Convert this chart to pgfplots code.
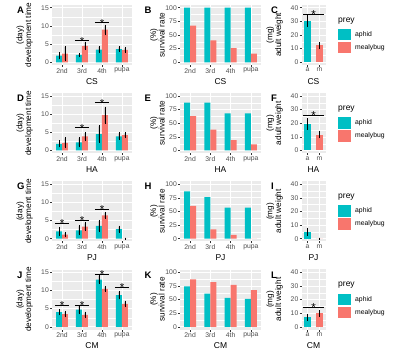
\documentclass[border=0pt]{standalone}
\usepackage{fontspec}
\setmainfont{Liberation Sans}
\usepackage{pgfplots}
\pgfplotsset{compat=1.18}
\definecolor{aphid}{HTML}{00BFC4}
\definecolor{mealy}{HTML}{F8766D}
\definecolor{panelbg}{HTML}{EBEBEB}
\definecolor{ticktext}{HTML}{4D4D4D}
\definecolor{tickgray}{HTML}{333333}
\pgfplotsset{
 gg/.style={
  scale only axis, height=60pt, clip=false,
  axis background/.style={fill=panelbg},
  axis line style={draw=none},
  xmajorgrids, ymajorgrids, yminorgrids,
  major grid style={white, line width=0.6pt},
  minor grid style={white, line width=0.3pt},
  minor y tick num=1, minor tick length=0pt, major tick length=2pt,
  tick align=outside, xtick pos=bottom, ytick pos=left,
  major tick style={tickgray, line width=0.5pt},
  ticklabel style={font=\fontsize{6.8}{7.5}\selectfont, text=ticktext, inner sep=1pt},
  /pgf/number format/assume math mode=true,
  every axis x label/.style={font=\fontsize{8.5}{9}\selectfont, at={(axis description cs:0.5,0)}, anchor=center, yshift=-16.5pt, inner sep=0pt},
  every axis y label/.style={font=\fontsize{8.2}{8.7}\selectfont, align=center, rotate=90, anchor=south, inner sep=0pt},
 },
 devt/.style={gg, width=80pt, xmin=-0.5, xmax=3.5, ymin=-0.75, ymax=15.75,
  ytick={0,5,10,15}, xtick={0,1,2,3}, xticklabels={2nd,3rd,4th,pupa},
  ylabel={(day)\\development time}, ylabel style={at={(axis description cs:-0.2375,0.5)}}},
 surv/.style={gg, width=81pt, xmin=-0.5, xmax=3.5, ymin=-5, ymax=105,
  ytick={0,25,50,75,100}, xtick={0,1,2,3}, xticklabels={2nd,3rd,4th,pupa},
  ylabel={(\%)\\survival rate}, ylabel style={at={(axis description cs:-0.185,0.5)}}},
 wt/.style={gg, width=24pt, xmin=-0.5, xmax=1.5, ymin=-2, ymax=42,
  ytick={0,10,20,30,40}, xtick={0,1}, xticklabels={a,m},
  ylabel={(mg)\\adult weight}, ylabel style={at={(axis description cs:-0.767,0.5)}}},
 abar/.style={ybar, bar width=0.3, bar shift=0pt, fill=aphid, draw=none},
 mbar/.style={ybar, bar width=0.3, bar shift=0pt, fill=mealy, draw=none},
 eb/.style={/pgfplots/error bars/y dir=both, /pgfplots/error bars/y explicit,
  /pgfplots/error bars/error bar style={black, line width=0.5pt},
  /pgfplots/error bars/error mark options={black, line width=0.5pt, mark size=1pt}},
}
\newcommand{\sig}[4]{%
 \addplot[black, line width=1pt] coordinates {(#1,#3) (#2,#3)};
 \node[font=\fontsize{11.5}{11.5}\selectfont, inner sep=0pt, anchor=base, yshift=-4.2pt] at (axis cs:#4,#3) {*};}
\newcommand{\letter}[3]{\node[anchor=base west, inner sep=0pt, font=\bfseries\fontsize{9.5}{10}\selectfont] at (#1pt,#2pt) {#3};}
\begin{document}
\begin{tikzpicture}
\useasboundingbox (0pt,0pt) rectangle (418pt,354pt);
% ---------------- Row 1 : CS
\begin{axis}[devt, at={(52pt,289pt)}, xlabel={CS}]
 \addplot[abar, eb] table[row sep=\\, y error=e] {x y e\\ -0.15 1.8 0.7\\ 0.85 2.0 0.2\\ 1.85 3.5 0.7\\ 2.85 3.6 0.5\\};
 \addplot[mbar, eb] table[row sep=\\, y error=e] {x y e\\ 0.15 2.4 1.8\\ 1.15 4.5 0.9\\ 2.15 9.0 1.1\\ 3.15 3.4 0.5\\};
 \sig{0.65}{1.35}{5.9}{1}
 \sig{1.65}{2.35}{10.8}{2}
\end{axis}
\begin{axis}[surv, at={(180pt,289pt)}, xlabel={CS}]
 \addplot[abar] table[row sep=\\] {x y\\ -0.15 100\\ 0.85 100\\ 1.85 100\\ 2.85 100\\};
 \addplot[mbar] table[row sep=\\] {x y\\ 0.15 67\\ 1.15 40\\ 2.15 26\\ 3.15 16\\};
\end{axis}
\begin{axis}[wt, at={(301.5pt,289pt)}, xlabel={CS}]
 \addplot[abar, bar width=0.55, eb] table[row sep=\\, y error=e] {x y e\\ 0 30.5 4.0\\};
 \addplot[mbar, bar width=0.55, eb] table[row sep=\\, y error=e] {x y e\\ 1 12.3 1.8\\};
 \sig{-0.35}{1.35}{35.2}{0.5}
\end{axis}
% ---------------- Row 2 : HA
\begin{axis}[devt, at={(52pt,200.8pt)}, xlabel={HA}]
 \addplot[abar, eb] table[row sep=\\, y error=e] {x y e\\ -0.15 1.8 0.7\\ 0.85 2.2 1.1\\ 1.85 4.5 2.1\\ 2.85 3.9 0.8\\};
 \addplot[mbar, eb] table[row sep=\\, y error=e] {x y e\\ 0.15 2.1 1.2\\ 1.15 3.9 0.9\\ 2.15 9.7 2.1\\ 3.15 4.2 0.5\\};
 \sig{0.65}{1.35}{6.2}{1}
 \sig{1.65}{2.35}{13.1}{2}
\end{axis}
\begin{axis}[surv, at={(180pt,200.8pt)}, xlabel={HA}]
 \addplot[abar] table[row sep=\\] {x y\\ -0.15 87.5\\ 0.85 87.5\\ 1.85 68\\ 2.85 68\\};
 \addplot[mbar] table[row sep=\\] {x y\\ 0.15 63\\ 1.15 38\\ 2.15 19\\ 3.15 11\\};
\end{axis}
\begin{axis}[wt, at={(301.5pt,200.8pt)}, xlabel={HA}]
 \addplot[abar, bar width=0.55, eb] table[row sep=\\, y error=e] {x y e\\ 0 19.5 3.7\\};
 \addplot[mbar, bar width=0.55, eb] table[row sep=\\, y error=e] {x y e\\ 1 11.6 1.9\\};
 \sig{-0.35}{1.35}{26}{0.5}
\end{axis}
% ---------------- Row 3 : PJ
\begin{axis}[devt, at={(52pt,112.6pt)}, xlabel={PJ}]
 \addplot[abar, eb] table[row sep=\\, y error=e] {x y e\\ -0.15 2.0 1.0\\ 0.85 2.3 1.1\\ 1.85 3.5 1.4\\ 2.85 2.6 0.7\\};
 \addplot[mbar, eb] table[row sep=\\, y error=e] {x y e\\ 0.15 1.1 0.4\\ 1.15 3.3 0.9\\ 2.15 6.4 0.7\\ 3.15 0 0\\};
 \sig{-0.35}{0.35}{4.1}{0}
 \sig{0.65}{1.35}{5.1}{1}
 \sig{1.65}{2.35}{8.1}{2}
\end{axis}
\begin{axis}[surv, at={(180pt,112.6pt)}, xlabel={PJ}]
 \addplot[abar] table[row sep=\\] {x y\\ -0.15 86.5\\ 0.85 76\\ 1.85 57\\ 2.85 57\\};
 \addplot[mbar] table[row sep=\\] {x y\\ 0.15 60\\ 1.15 17\\ 2.15 7\\ 3.15 0\\};
\end{axis}
\begin{axis}[wt, at={(301.5pt,112.6pt)}, xlabel={PJ}]
 \addplot[abar, bar width=0.55, eb] table[row sep=\\, y error=e] {x y e\\ 0 5.2 2.2\\};
 \addplot[mbar, bar width=0.55, eb] table[row sep=\\, y error=e] {x y e\\ 1 0 0\\};
\end{axis}
% ---------------- Row 4 : CM
\begin{axis}[devt, at={(52pt,24.5pt)}, xlabel={CM}]
 \addplot[abar, eb] table[row sep=\\, y error=e] {x y e\\ -0.15 4.0 0.6\\ 0.85 4.7 1.0\\ 1.85 13.0 1.0\\ 2.85 8.7 0.9\\};
 \addplot[mbar, eb] table[row sep=\\, y error=e] {x y e\\ 0.15 3.45 0.6\\ 1.15 3.3 0.6\\ 2.15 10.45 0.55\\ 3.15 6.3 0.6\\};
 \sig{-0.35}{0.35}{5.9}{0}
 \sig{0.65}{1.35}{5.9}{1}
 \sig{1.65}{2.35}{14.3}{2}
 \sig{2.65}{3.35}{10.8}{3}
\end{axis}
\begin{axis}[surv, at={(180pt,24.5pt)}, xlabel={CM}]
 \addplot[abar] table[row sep=\\] {x y\\ -0.15 74\\ 0.85 61\\ 1.85 53\\ 2.85 51\\};
 \addplot[mbar] table[row sep=\\] {x y\\ 0.15 87\\ 1.15 82\\ 2.15 77\\ 3.15 67\\};
\end{axis}
\begin{axis}[wt, at={(301.5pt,24.5pt)}, xlabel={CM}]
 \addplot[abar, bar width=0.55, eb] table[row sep=\\, y error=e] {x y e\\ 0 6.9 1.8\\};
 \addplot[mbar, bar width=0.55, eb] table[row sep=\\, y error=e] {x y e\\ 1 9.8 1.8\\};
 \sig{-0.35}{1.35}{14.5}{0.5}
\end{axis}
% ---------------- panel letters
\letter{17}{340.5}{A}\letter{144.5}{340.5}{B}\letter{271}{340.5}{C}
\letter{17}{252.3}{D}\letter{144.5}{252.3}{E}\letter{271}{252.3}{F}
\letter{17}{164.1}{G}\letter{144.5}{164.1}{H}\letter{271}{164.1}{I}
\letter{17}{76}{J}\letter{144.5}{76}{K}\letter{271}{76}{L}
% ---------------- legends
\foreach \o in {0,88.2,176.4,264.5}{
 \node[anchor=west, inner sep=0pt, font=\fontsize{8.5}{9}\selectfont] at (338pt,{(333-\o)*1pt}) {prey};
 \fill[aphid] (338.3pt,{(325-\o)*1pt}) rectangle (351pt,{(313.5-\o)*1pt});
 \fill[mealy] (338.3pt,{(312-\o)*1pt}) rectangle (351pt,{(300.5-\o)*1pt});
 \node[anchor=west, inner sep=0pt, font=\fontsize{6.8}{7}\selectfont] at (355pt,{(319.25-\o)*1pt}) {aphid};
 \node[anchor=west, inner sep=0pt, font=\fontsize{6.8}{7}\selectfont] at (355pt,{(306.25-\o)*1pt}) {mealybug};
}
\end{tikzpicture}
\end{document}
